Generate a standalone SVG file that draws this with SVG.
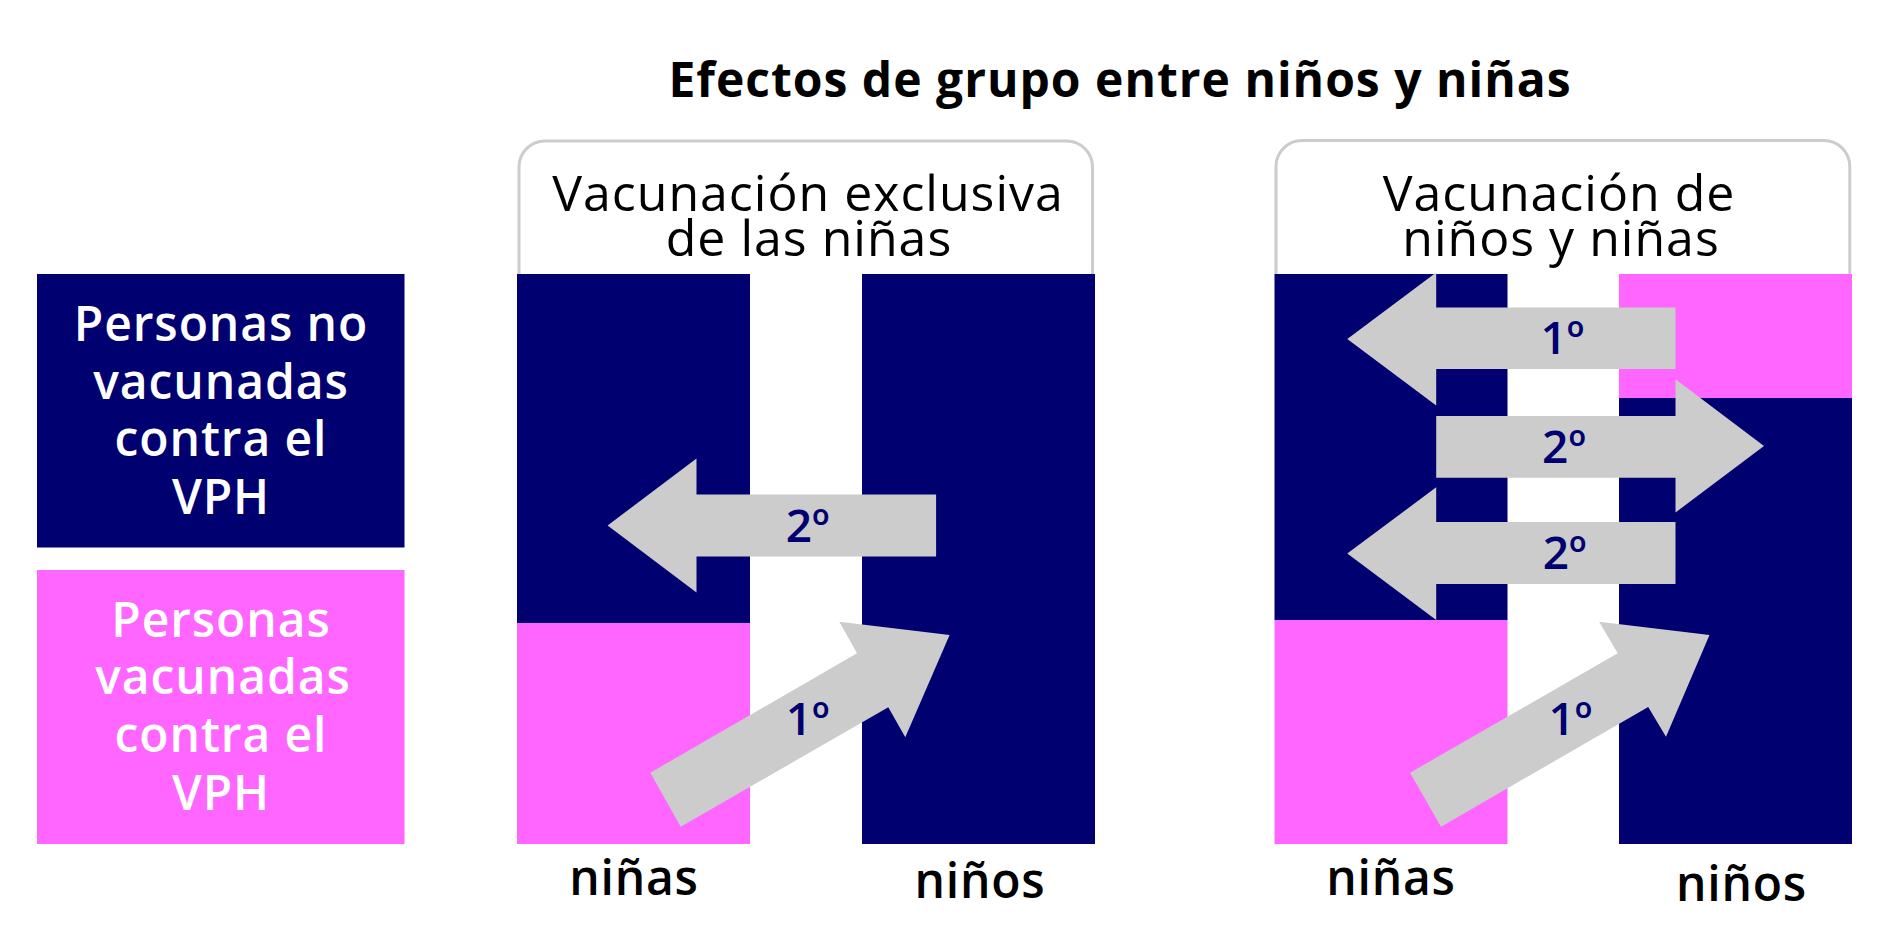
<svg xmlns="http://www.w3.org/2000/svg" width="1898" height="951" viewBox="0 0 1898 951">
<style>
.navy{fill:#000070}
.pink{fill:#ff66ff}
.outline{fill:none;stroke:#cccccc;stroke-width:3}
.arrow{fill:#cccccc}
.t{font-family:"Open Sans","Noto Sans","DejaVu Sans",sans-serif;text-anchor:middle}
.title{font-size:48px;font-weight:700;fill:#000;letter-spacing:1px}
.head{font-size:50px;font-weight:500;fill:#000;letter-spacing:1px}
.leg{font-size:48px;font-weight:600;fill:#fff;letter-spacing:0.9px}
.lab{font-size:48px;font-weight:600;fill:#000;letter-spacing:0.8px}
.num{font-size:46px;font-weight:600;fill:#000070}
</style>
<rect width="1898" height="951" fill="#fff"/>
<g id="title"><text class="t title" x="1120" y="97">Efectos de grupo entre niños y niñas</text></g>
<g id="legend-unvaccinated">
<rect class="navy" x="37" y="274" width="367.5" height="273.5"/>
<text class="t leg" x="221" y="341">Personas no</text>
<text class="t leg" x="221" y="399">vacunadas</text>
<text class="t leg" x="221" y="456">contra el</text>
<text class="t leg" x="221" y="514">VPH</text>
</g>
<g id="legend-vaccinated">
<rect class="pink" x="37" y="570" width="367.5" height="274"/>
<text class="t leg" x="221" y="637">Personas</text>
<text class="t leg" x="223" y="694">vacunadas</text>
<text class="t leg" x="221" y="752">contra el</text>
<text class="t leg" x="221" y="810">VPH</text>
</g>
<g id="panel-girls-only">
<path class="outline" d="M519,274 V167 A26,26 0 0 1 545,141 H1066.5 A26,26 0 0 1 1092.5,167 V274"/>
<text class="t head" x="808" y="211">Vacunación exclusiva</text>
<text class="t head" x="809" y="256">de las niñas</text>
<rect class="navy" x="517" y="274" width="233" height="349"/>
<rect class="pink" x="517" y="623" width="233" height="221"/>
<rect class="navy" x="862" y="274" width="233" height="570"/>
<text class="t lab" x="634" y="895">niñas</text>
<text class="t lab" x="980" y="898">niños</text>
</g>
<g id="panel-both">
<path class="outline" d="M1276,274 V166.5 A26,26 0 0 1 1302,140.5 H1823.8 A26,26 0 0 1 1849.8,166.5 V274"/>
<text class="t head" x="1559" y="211">Vacunación de</text>
<text class="t head" x="1561" y="256">niños y niñas</text>
<rect class="navy" x="1274.5" y="274" width="233" height="346"/>
<rect class="pink" x="1274.5" y="620" width="233" height="224"/>
<rect class="pink" x="1619" y="274" width="233" height="124"/>
<rect class="navy" x="1619" y="398" width="233" height="446"/>
<text class="t lab" x="1391" y="895">niñas</text>
<text class="t lab" x="1741.5" y="901">niños</text>
</g>
<g id="connectors">
<polygon class="arrow" points="607.6,525.5 696.5,458.5 696.5,494.5 936.1,494.5 936.1,556.5 696.5,556.5 696.5,592.5"/>
<text class="t num" x="807.6" y="542">2º</text>
<polygon class="arrow" points="650.3,772.7 857,653.3 839.3,621.7 949.6,635 905.3,737.3 888.3,707.3 680.7,826.7"/>
<text class="t num" x="807.6" y="735">1º</text>
<polygon class="arrow" points="1347.3,339 1436.2,272.5 1436.2,307.5 1675.5,307.5 1675.5,369 1436.2,369 1436.2,405.5"/>
<text class="t num" x="1562.4" y="353.5">1º</text>
<polygon class="arrow" points="1764,446 1675.5,379.3 1675.5,416 1436.2,416 1436.2,477.7 1675.5,477.7 1675.5,512.5"/>
<text class="t num" x="1564" y="462.7">2º</text>
<polygon class="arrow" points="1347.3,553.5 1436.2,487.3 1436.2,522 1675.5,522 1675.5,584 1436.2,584 1436.2,620"/>
<text class="t num" x="1564.7" y="569">2º</text>
<polygon class="arrow" points="1410.1,772.7 1617.7,653.3 1599.1,621.7 1709.5,635 1666,736.7 1648.2,707 1441,826.7"/>
<text class="t num" x="1570.3" y="735">1º</text>
</g>
</svg>
